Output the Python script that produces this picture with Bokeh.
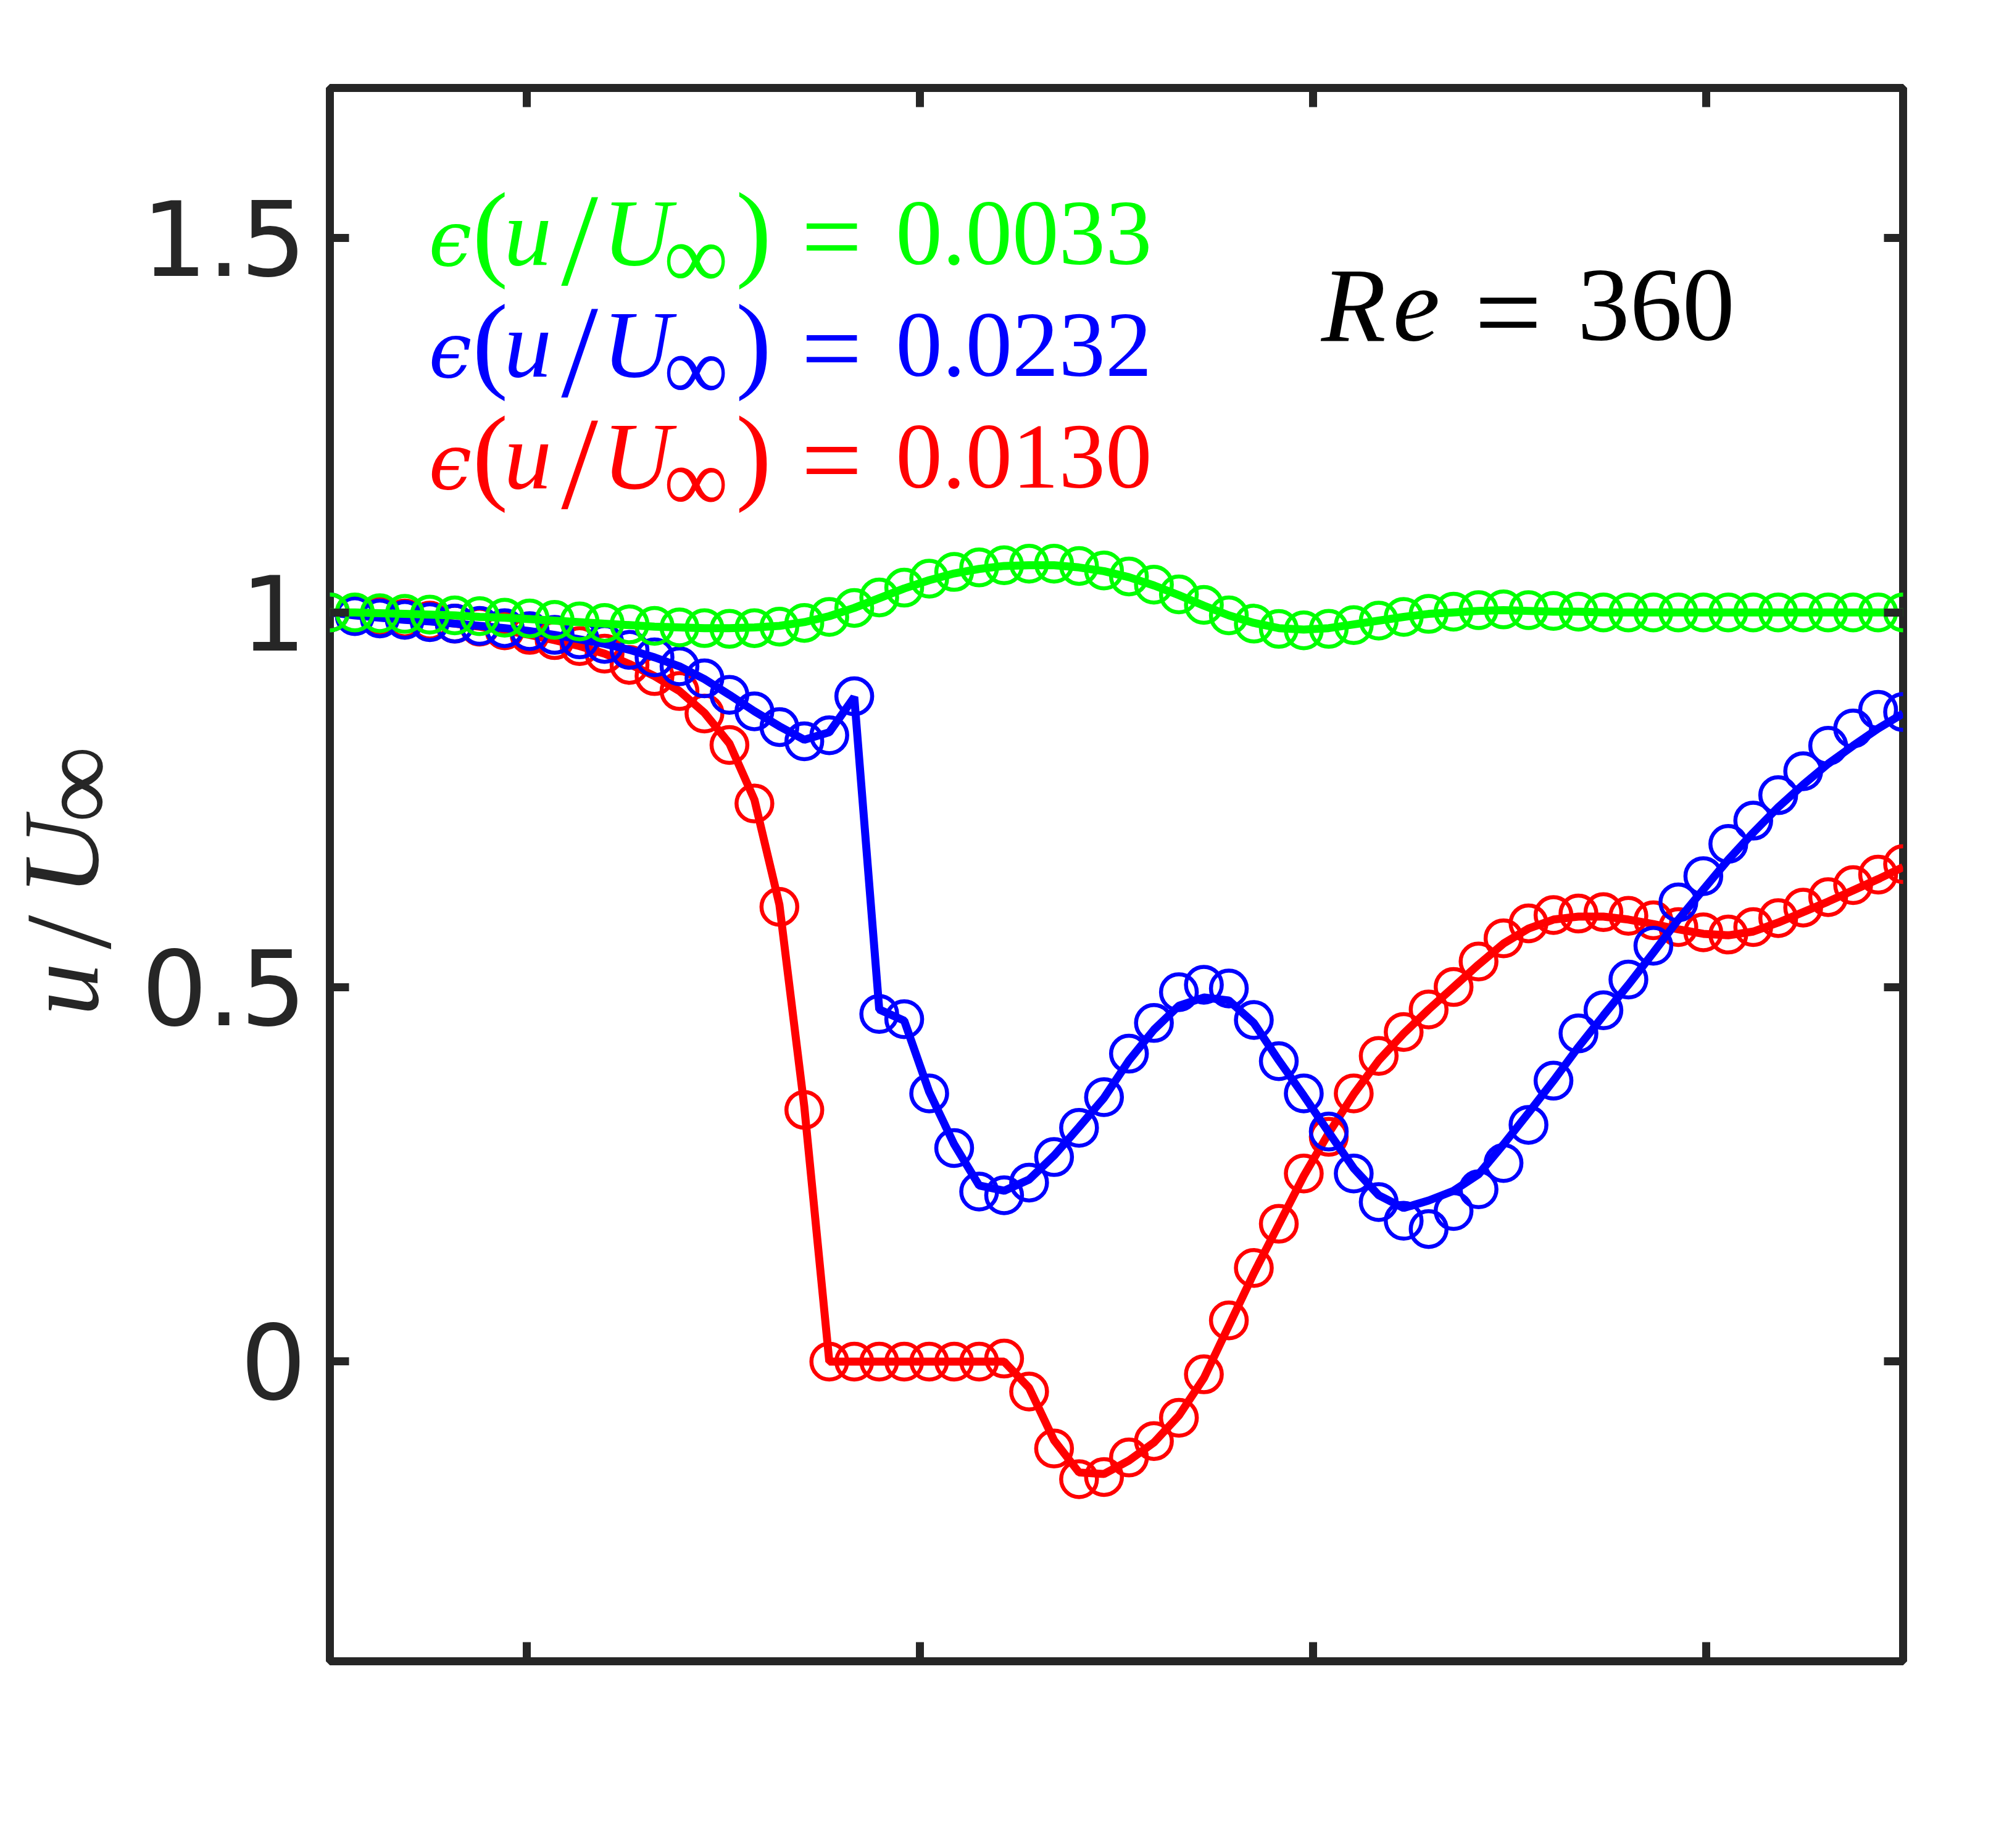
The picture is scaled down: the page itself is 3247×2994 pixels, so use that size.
import math
from bokeh.plotting import figure
from bokeh.layouts import row
from bokeh.models import Range1d, LinearAxis, FixedTicker, Label
from bokeh.embed import file_html
from bokeh.resources import INLINE

# ---------------- data ----------------
X = [0.0, 0.0635, 0.1270, 0.1905, 0.2540, 0.3175, 0.3810, 0.4444, 0.5079, 0.5714,
     0.6349, 0.6984, 0.7619, 0.8254, 0.8889, 0.9524, 1.0159, 1.0794, 1.1429, 1.2063,
     1.2698, 1.3333, 1.3968, 1.4603, 1.5238, 1.5873, 1.6508, 1.7143, 1.7778, 1.8413,
     1.9048, 1.9683, 2.0317, 2.0952, 2.1587, 2.2222, 2.2857, 2.3492, 2.4127, 2.4762,
     2.5397, 2.6032, 2.6667, 2.7302, 2.7937, 2.8571, 2.9206, 2.9841, 3.0476, 3.1111,
     3.1746, 3.2381, 3.3016, 3.3651, 3.4286, 3.4921, 3.5556, 3.6190, 3.6825, 3.7460,
     3.8095, 3.8730, 3.9365, 4.0]

green_markers = [1.000, 1.000, 0.999, 0.998, 0.997, 0.996, 0.995, 0.993, 0.992, 0.990,
                 0.988, 0.986, 0.984, 0.982, 0.980, 0.979, 0.978, 0.979, 0.981, 0.986,
                 0.994, 1.006, 1.020, 1.033, 1.045, 1.054, 1.060, 1.063, 1.065, 1.065,
                 1.062, 1.056, 1.048, 1.037, 1.024, 1.010, 0.996, 0.985, 0.978, 0.976,
                 0.978, 0.983, 0.989, 0.994, 0.998, 1.001, 1.003, 1.004, 1.003, 1.002,
                 1.001, 1.000, 1.000, 1.000, 1.000, 1.000, 1.000, 1.000, 1.000, 1.000,
                 1.000, 1.000, 1.000, 1.000]
green_line = [1.000, 1.000, 0.999, 0.998, 0.997, 0.996, 0.994, 0.993, 0.991, 0.989,
              0.987, 0.985, 0.983, 0.981, 0.980, 0.979, 0.979, 0.980, 0.982, 0.987,
              0.995, 1.006, 1.019, 1.032, 1.043, 1.052, 1.058, 1.062, 1.063, 1.063,
              1.060, 1.055, 1.047, 1.036, 1.023, 1.009, 0.996, 0.986, 0.979, 0.977,
              0.979, 0.984, 0.989, 0.994, 0.998, 1.000, 1.002, 1.003, 1.002, 1.001,
              1.001, 1.000, 1.000, 1.000, 1.000, 1.000, 1.000, 1.000, 1.000, 1.000,
              1.000, 1.000, 1.000, 1.000]

blue_markers = [1.000, 0.995, 0.992, 0.990, 0.987, 0.985, 0.982, 0.979, 0.975, 0.970,
                0.964, 0.958, 0.950, 0.940, 0.928, 0.912, 0.890, 0.868, 0.847, 0.828,
                0.836, 0.888, 0.464, 0.457, 0.358, 0.285, 0.227, 0.222, 0.239, 0.273,
                0.312, 0.353, 0.411, 0.452, 0.493, 0.503, 0.498, 0.456, 0.401, 0.358,
                0.307, 0.251, 0.213, 0.188, 0.177, 0.201, 0.230, 0.265, 0.316, 0.375,
                0.438, 0.469, 0.510, 0.555, 0.613, 0.648, 0.691, 0.722, 0.756, 0.788,
                0.822, 0.845, 0.870, 0.867]
blue_line = [1.000, 0.996, 0.993, 0.990, 0.988, 0.985, 0.982, 0.979, 0.975, 0.970,
             0.964, 0.958, 0.950, 0.940, 0.928, 0.911, 0.890, 0.868, 0.848, 0.830,
             0.840, 0.887, 0.470, 0.455, 0.360, 0.290, 0.235, 0.228, 0.243, 0.275,
             0.313, 0.352, 0.402, 0.443, 0.475, 0.486, 0.482, 0.452, 0.402, 0.355,
             0.306, 0.258, 0.222, 0.205, 0.215, 0.228, 0.250, 0.290, 0.332, 0.375,
             0.420, 0.462, 0.503, 0.546, 0.590, 0.630, 0.670, 0.706, 0.740, 0.770,
             0.798, 0.822, 0.845, 0.865]

red_markers = [1.000, 0.998, 0.995, 0.992, 0.989, 0.985, 0.981, 0.976, 0.970, 0.963,
               0.955, 0.945, 0.930, 0.915, 0.895, 0.865, 0.823, 0.745, 0.607, 0.336,
               0.000, 0.000, 0.000, 0.000, 0.000, 0.000, 0.000, 0.004, -0.040, -0.116,
               -0.157, -0.154, -0.128, -0.106, -0.075, -0.017, 0.055, 0.125, 0.184, 0.251,
               0.300, 0.358, 0.408, 0.440, 0.470, 0.500, 0.534, 0.565, 0.585, 0.596,
               0.598, 0.600, 0.595, 0.589, 0.580, 0.573, 0.570, 0.580, 0.592, 0.606,
               0.620, 0.636, 0.650, 0.664]
red_line = [1.000, 0.998, 0.995, 0.992, 0.989, 0.985, 0.981, 0.976, 0.970, 0.963,
            0.955, 0.945, 0.931, 0.915, 0.895, 0.866, 0.825, 0.750, 0.610, 0.340,
            0.000, 0.000, 0.000, 0.000, 0.000, 0.000, 0.000, 0.000, -0.035, -0.105,
            -0.148, -0.150, -0.132, -0.108, -0.072, -0.022, 0.048, 0.118, 0.183, 0.248,
            0.305, 0.357, 0.402, 0.438, 0.470, 0.500, 0.530, 0.558, 0.578, 0.590,
            0.594, 0.594, 0.590, 0.584, 0.577, 0.571, 0.569, 0.574, 0.586, 0.600,
            0.614, 0.629, 0.644, 0.660]

y_ticks = [0, 0.5, 1, 1.5]
y_tick_labels = ["0", "0.5", "1", "1.5"]
x_ticks = [0.5, 1.5, 2.5, 3.5]

errors = ["0.0033", "0.0232", "0.0130"]
colors = ["#00FF00", "#0000FF", "#FF0000"]

AX = "#262626"

# ---------------- layout sizes (page px) ----------------
H = 2978
WA = 226                      # narrow strip holding the y label
W = 3231 - WA                 # main figure
FL, FT = 533, 142             # frame left / top on the page
FW, FH = 2550, 2549
ML = FL - WA
BASE_FIX = 0.31               # baseline correction (fraction of font size)

# ---------------- y-label strip ----------------
lab = figure(width=WA, height=H, output_backend="svg", toolbar_location=None,
             x_range=Range1d(0, WA), y_range=Range1d(H, 0),
             min_border=0, min_border_left=0, min_border_right=0,
             min_border_top=0, min_border_bottom=0,
             x_axis_location=None, y_axis_location=None)
lab.outline_line_color = None
lab.grid.visible = False
lab.background_fill_color = "white"
lab.border_fill_color = "white"


def strip_text(txt, cx, cy, size, style="normal"):
    lab.add_layout(Label(x=cx, y=cy, x_units="data", y_units="data", text=txt,
                         text_font="Liberation Serif", text_font_size=f"{size}px",
                         text_font_style=style, text_color=AX,
                         text_align="center", text_baseline="middle",
                         angle=math.pi / 2))


strip_text("u", 99, 1706, 172, style="italic")
strip_text("/", 110, 1598, 200)
strip_text("U", 98, 1455, 176, style="italic")
strip_text("\u221e", 124, 1318, 175)

# ---------------- main figure ----------------
p = figure(width=W, height=H, output_backend="svg", toolbar_location=None,
           x_range=Range1d(0, 4), y_range=Range1d(-0.4, 1.7),
           min_border_left=ML, min_border_top=FT,
           min_border_right=W - ML - FW, min_border_bottom=H - FT - FH,
           x_axis_location=None, y_axis_location=None)
p.background_fill_color = "white"
p.border_fill_color = "white"
p.grid.visible = False
p.outline_line_color = AX
p.outline_line_width = 13


def style_axis(ax, ticks, show_labels):
    ax.ticker = FixedTicker(ticks=ticks)
    ax.axis_line_color = None
    ax.major_tick_in = 31
    ax.major_tick_out = 0
    ax.major_tick_line_width = 13
    ax.major_tick_line_color = AX
    ax.major_tick_line_cap = "butt"
    ax.minor_tick_line_color = None
    if show_labels:
        ax.major_label_text_font = "DejaVu Sans"
        ax.major_label_text_font_size = "168px"
        ax.major_label_text_color = AX
        ax.major_label_standoff = 38
        ax.major_label_overrides = {t: s for t, s in zip(y_ticks, y_tick_labels)}
    else:
        ax.major_label_text_color = None
        ax.major_label_text_font_size = "1px"
        ax.major_label_standoff = 0


left = LinearAxis()
style_axis(left, y_ticks, True)
p.add_layout(left, "left")
right = LinearAxis()
style_axis(right, y_ticks, False)
p.add_layout(right, "right")
bottom = LinearAxis()
style_axis(bottom, x_ticks, False)
p.add_layout(bottom, "below")
top = LinearAxis()
style_axis(top, x_ticks, False)
p.add_layout(top, "above")

# series: red, blue, green (green on top)
for ln, mk, c in [(red_line, red_markers, "#FF0000"),
                  (blue_line, blue_markers, "#0000FF"),
                  (green_line, green_markers, "#00FF00")]:
    p.line(X, ln, line_color=c, line_width=13)
    p.scatter(X, mk, marker="circle", size=58, fill_color=None,
              line_color=c, line_width=6.5)


# ---------------- texts inside the frame ----------------
def dx(px):
    return (px - FL) / (FW / 4.0)


def dy(py):
    return 1.7 - (py - FT) / (FH / 2.1)


def add_text(txt, px, py, size, color, font="Liberation Serif", style="normal"):
    py = py - BASE_FIX * size
    p.add_layout(Label(x=dx(px), y=dy(py), x_units="data", y_units="data", text=txt,
                       text_font=font, text_font_size=f"{size}px",
                       text_font_style=style, text_color=color,
                       text_align="left", text_baseline="alphabetic"))


baselines = [425, 606, 787]
for err, c, B in zip(errors, colors, baselines):
    add_text("\u03f5", 693, B, 125, c, font="DejaVu Serif", style="italic")
    add_text("(", 764, B + 2, 173, c)
    add_text("u", 815, B, 155, c, style="italic")
    add_text("/", 908, B + 30, 215, c)
    add_text("U", 975, B, 155, c, style="italic")
    add_text("\u221e", 1074, B + 37, 147, c)
    add_text(")", 1191, B + 2, 173, c)
    add_text("=", 1297, B + 12, 175, c)
    add_text(err, 1450, B, 151, c)

# Re = 360
RB = 547
add_text("R", 2140, RB, 172, "black", style="italic")
add_text("e", 2256, RB, 172, "black", style="italic")
add_text("=", 2388, RB + 18, 195, "black")
add_text("360", 2555, RB, 170, "black")

layout = row(lab, p)
open("out.html", "w").write(file_html(layout, INLINE))
